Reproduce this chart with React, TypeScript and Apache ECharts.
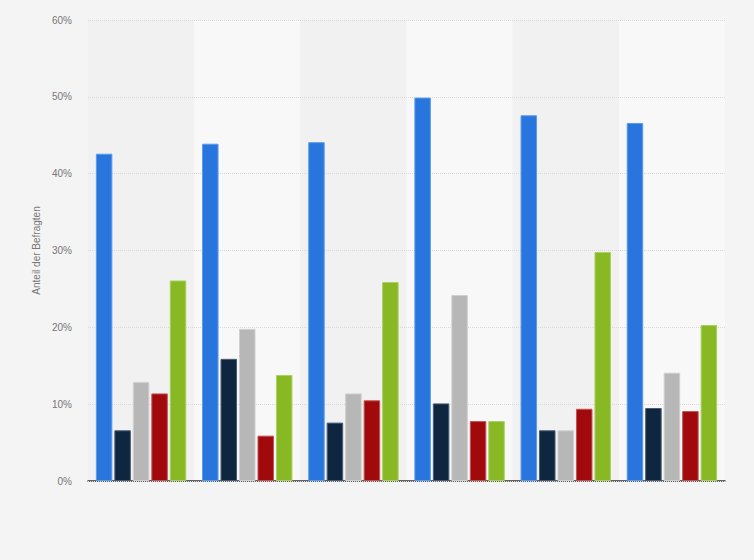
import React, { useRef, useEffect } from 'react';
import * as echarts from 'echarts';

const categories = ['Gruppe 1', 'Gruppe 2', 'Gruppe 3', 'Gruppe 4', 'Gruppe 5', 'Gruppe 6'];
const seriesNames = ['Serie 1', 'Serie 2', 'Serie 3', 'Serie 4', 'Serie 5'];
const seriesColors = ['#2876dd', '#0f2640', '#b7b7b7', '#a10a0c', '#88b823'];
const seriesBorders = ['#5a9bec', '#4a5d72', '#d0d0d0', '#c25456', '#aad160'];

const blueValues = [42.6, 43.9, 44.1, 49.9, 47.6, 46.6];
const navyValues = [6.6, 15.9, 7.6, 10.1, 6.6, 9.5];
const greyValues = [12.9, 19.8, 11.4, 24.2, 6.6, 14.1];
const redValues = [11.4, 5.9, 10.5, 7.8, 9.4, 9.1];
const greenValues = [26.1, 13.8, 25.9, 7.8, 29.8, 20.3];

const yTicks = [0, 10, 20, 30, 40, 50, 60];

export default function App() {
  const chartRef = useRef<HTMLDivElement>(null);

  useEffect(() => {
    if (!chartRef.current) return;
    const chart = echarts.init(chartRef.current, undefined, { renderer: 'svg' });
    const allValues = [blueValues, navyValues, greyValues, redValues, greenValues];

    const option: echarts.EChartsOption = {
      animation: false,
      backgroundColor: '#f4f4f4',
      textStyle: { fontFamily: 'Arial, "Liberation Sans", sans-serif' },
      grid: { left: 88, right: 29, top: 20, bottom: 79 },
      xAxis: {
        type: 'category',
        data: categories,
        z: 0,
        axisLabel: { show: false },
        axisTick: { show: false },
        axisLine: { lineStyle: { color: '#333', width: 1.5 } },
        splitArea: { show: true, areaStyle: { color: ['#f1f1f1', '#f8f8f8'] } },
      },
      yAxis: {
        type: 'value',
        z: 1,
        min: yTicks[0],
        max: yTicks[yTicks.length - 1],
        interval: 10,
        name: 'Anteil der Befragten',
        nameLocation: 'middle',
        nameRotate: 90,
        nameGap: 45,
        nameTextStyle: { color: '#777', fontSize: 10 },
        axisLine: { show: false },
        axisTick: { show: false },
        axisLabel: { formatter: '{value}%', color: '#777', fontSize: 10, margin: 16 },
        splitLine: { lineStyle: { color: '#dadada', type: [1, 1], width: 1 } },
      },
      series: seriesNames.map((name, i) => ({
        name,
        type: 'bar',
        z: 2,
        data: allValues[i],
        barWidth: 16.5,
        barGap: '12%',
        itemStyle: { color: seriesColors[i], borderColor: seriesBorders[i], borderWidth: 1 },
      })) as echarts.SeriesOption[],
    };

    chart.setOption(option);
    return () => chart.dispose();
  }, []);

  return <div ref={chartRef} style={{ position: 'fixed', left: 0, top: 0, width: 754, height: 560 }} />;
}
